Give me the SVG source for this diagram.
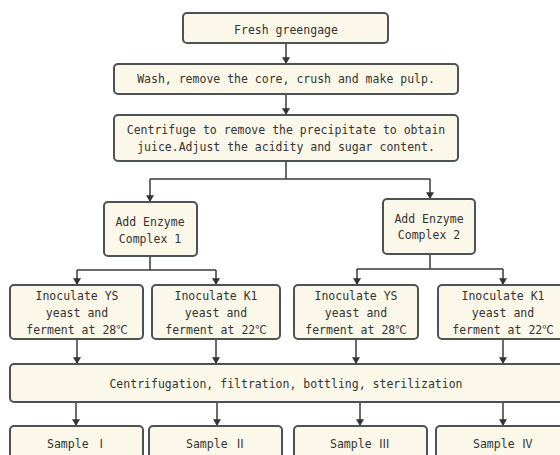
<svg xmlns="http://www.w3.org/2000/svg" width="560" height="455" viewBox="0 0 560 455">
<defs>
<marker id="ah" viewBox="0 0 10 12" refX="10" refY="6" markerWidth="9" markerHeight="8" orient="auto" markerUnits="userSpaceOnUse">
<path d="M0,0 L10,6 L0,12 z" fill="#333"/>
</marker>
<style>
rect{fill:#fcf8e9;stroke:#4d5257;stroke-width:2}
text{font-family:"DejaVu Sans Mono","Noto Sans CJK SC",monospace;font-size:11.5px;fill:#333;text-anchor:middle}
.c{fill:none;stroke:#3a3a3a;stroke-width:1.5}
</style>
</defs>
<rect x="0" y="0" width="560" height="455" style="fill:#fff;stroke:none"/>
<g id="connectors">
<path class="c" d="M286,43 V64" marker-end="url(#ah)"/>
<path class="c" d="M286,94 V115" marker-end="url(#ah)"/>
<path class="c" d="M286,161 V179"/>
<path class="c" d="M150,179 H430"/>
<path class="c" d="M150,179 V202" marker-end="url(#ah)"/>
<path class="c" d="M430,179 V199" marker-end="url(#ah)"/>
<path class="c" d="M150,256 V270"/>
<path class="c" d="M77,270 H216"/>
<path class="c" d="M77,270 V285" marker-end="url(#ah)"/>
<path class="c" d="M216,270 V285" marker-end="url(#ah)"/>
<path class="c" d="M430,254 V269"/>
<path class="c" d="M357,269 H503"/>
<path class="c" d="M357,269 V285" marker-end="url(#ah)"/>
<path class="c" d="M503,269 V285" marker-end="url(#ah)"/>
<path class="c" d="M77,339 V364" marker-end="url(#ah)"/>
<path class="c" d="M216,339 V364" marker-end="url(#ah)"/>
<path class="c" d="M356,339 V364" marker-end="url(#ah)"/>
<path class="c" d="M503,339 V364" marker-end="url(#ah)"/>
<path class="c" d="M76,402 V426" marker-end="url(#ah)"/>
<path class="c" d="M217,402 V426" marker-end="url(#ah)"/>
<path class="c" d="M360,402 V426" marker-end="url(#ah)"/>
<path class="c" d="M503,402 V426" marker-end="url(#ah)"/>
</g>
<g id="n1"><rect x="183" y="13" width="205" height="30" rx="4"/><text x="286" y="34">Fresh greengage</text></g>
<g id="n2"><rect x="114" y="64" width="344" height="30" rx="4"/><text x="286" y="83">Wash, remove the core, crush and make pulp.</text></g>
<g id="n3"><rect x="114" y="115" width="344" height="46" rx="4"/><text x="286" y="134">Centrifuge to remove the precipitate to obtain</text><text x="286" y="151">juice.Adjust the acidity and sugar content.</text></g>
<g id="n4"><rect x="104" y="202" width="93" height="54" rx="4"/><text x="150" y="226">Add Enzyme</text><text x="150" y="243">Complex 1</text></g>
<g id="n5"><rect x="383" y="199" width="92" height="55" rx="4"/><text x="429" y="223">Add Enzyme</text><text x="429" y="239">Complex 2</text></g>
<g id="n6"><rect x="10" y="285" width="133" height="54" rx="4"/><text x="77" y="300">Inoculate YS</text><text x="77" y="317">yeast and</text><text x="77" y="334">ferment at 28℃</text></g>
<g id="n7"><rect x="152" y="285" width="128" height="54" rx="4"/><text x="216" y="300">Inoculate K1</text><text x="216" y="317">yeast and</text><text x="216" y="334">ferment at 22℃</text></g>
<g id="n8"><rect x="294" y="285" width="124" height="54" rx="4"/><text x="356" y="300">Inoculate YS</text><text x="356" y="317">yeast and</text><text x="356" y="334">ferment at 28℃</text></g>
<g id="n9"><rect x="438" y="285" width="130" height="54" rx="4"/><text x="503" y="300">Inoculate K1</text><text x="503" y="317">yeast and</text><text x="503" y="334">ferment at 22℃</text></g>
<g id="n10"><rect x="10" y="364" width="558" height="38" rx="4"/><text x="286" y="388">Centrifugation, filtration, bottling, sterilization</text></g>
<g id="n11"><rect x="10" y="426" width="133" height="40" rx="4"/><text x="77" y="448">Sample Ⅰ</text></g>
<g id="n12"><rect x="149" y="426" width="133" height="40" rx="4"/><text x="216" y="448">Sample Ⅱ</text></g>
<g id="n13"><rect x="294" y="426" width="133" height="40" rx="4"/><text x="360" y="448">Sample Ⅲ</text></g>
<g id="n14"><rect x="436" y="426" width="134" height="40" rx="4"/><text x="503" y="448">Sample Ⅳ</text></g>
</svg>
